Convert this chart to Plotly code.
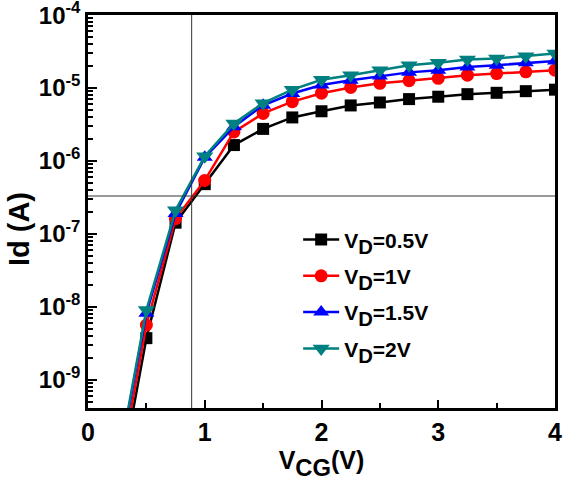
import plotly.graph_objects as go

vcg = [0.25, 0.5, 0.75, 1.0, 1.25, 1.5, 1.75, 2.0, 2.25, 2.5, 2.75, 3.0, 3.25, 3.5, 3.75, 4.0]

id_vd05 = [2.5e-11, 3.7e-9, 1.42e-7, 4.8e-7, 1.65e-6, 2.75e-6, 3.95e-6, 4.8e-6, 5.77e-6,
           6.34e-6, 7.05e-6, 7.6e-6, 8.24e-6, 8.6e-6, 9.06e-6, 9.5e-6]
id_vd1 = [3.5e-11, 5.6e-9, 1.62e-7, 5.4e-7, 2.5e-6, 4.48e-6, 6.5e-6, 8.5e-6, 1.02e-5,
          1.16e-5, 1.26e-5, 1.36e-5, 1.5e-5, 1.58e-5, 1.67e-5, 1.76e-5]
id_vd15 = [5.5e-11, 8.1e-9, 1.9e-7, 1.12e-6, 2.94e-6, 5.8e-6, 8.4e-6, 1.1e-5, 1.28e-5,
           1.46e-5, 1.64e-5, 1.76e-5, 1.95e-5, 2.06e-5, 2.22e-5, 2.34e-5]
id_vd2 = [6.0e-11, 9.0e-9, 2.1e-7, 1.16e-6, 3.27e-6, 6.2e-6, 9.5e-6, 1.3e-5, 1.5e-5,
          1.76e-5, 2.06e-5, 2.22e-5, 2.47e-5, 2.55e-5, 2.74e-5, 2.98e-5]

sub_d = "<span style='font-size:29px'><sub>D</sub></span>"
series_names = ["V" + sub_d + "=0.5V", "V" + sub_d + "=1V",
                "V" + sub_d + "=1.5V", "V" + sub_d + "=2V"]
series_values = [id_vd05, id_vd1, id_vd15, id_vd2]
colors = ["#000000", "#FF0000", "#0000FF", "#008080"]
symbols = ["square", "circle", "triangle-up", "triangle-down"]
sizes = [12, 13, 14, 15]

x_ticks = [0, 1, 2, 3, 4]
y_tickvals = [1e-9, 1e-8, 1e-7, 1e-6, 1e-5, 1e-4]
y_ticktext = ["10<sup>-9</sup>", "10<sup>-8</sup>", "10<sup>-7</sup>",
              "10<sup>-6</sup>", "10<sup>-5</sup>", "10<sup>-4</sup>"]
y_minor = [m * d for d in [1e-10, 1e-9, 1e-8, 1e-7, 1e-6, 1e-5] for m in range(2, 10)]
y_title = "Id (A)"

vline_x = 0.888
hline_y = 3.3e-7
y_range = [-9.39, -3.998]

fig = go.Figure()
for i, (name, vals) in enumerate(zip(series_names, series_values)):
    fig.add_trace(go.Scatter(
        x=vcg, y=vals, name=name, mode="lines+markers",
        line=dict(color=colors[i], width=2.5),
        marker=dict(symbol=symbols[i], size=sizes[i], color=colors[i]),
        legendgroup=str(i),
    ))

fig.add_shape(type="line", xref="x", yref="paper", x0=vline_x, x1=vline_x, y0=0, y1=1,
              line=dict(color="#333333", width=1))
fig.add_shape(type="line", xref="paper", yref="y", x0=0, x1=1, y0=hline_y, y1=hline_y,
              line=dict(color="#333333", width=1))

font_family = "Liberation Sans, Arial, sans-serif"

fig.add_annotation(text=y_title, xref="paper", yref="paper", x=-0.148, y=0.455,
                   xanchor="center", yanchor="middle", textangle=-90, showarrow=False,
                   font=dict(size=29, family=font_family, weight="bold", color="black"))

fig.update_layout(
    width=567, height=482,
    margin=dict(l=88, r=12, t=15, b=74),
    paper_bgcolor="white", plot_bgcolor="white",
    font=dict(family=font_family, color="black"),
    showlegend=True,
    legend=dict(
        x=0.45, y=0.48, xanchor="left", yanchor="top",
        bgcolor="rgba(0,0,0,0)", borderwidth=0,
        font=dict(size=21, family=font_family, color="black", weight="bold"),
        tracegroupgap=6,
        itemwidth=36,
    ),
    xaxis=dict(
        range=[0, 4], tickvals=x_ticks, automargin=False,
        ticks="inside", ticklen=8, tickwidth=2, tickcolor="black",
        showline=True, linewidth=2.5, linecolor="black", mirror=True,
        showgrid=False, zeroline=False,
        minor=dict(ticks="inside", ticklen=5, tickwidth=2, tickcolor="black",
                   tickmode="linear", tick0=0, dtick=0.5),
        tickfont=dict(size=25, family=font_family, weight="bold"),
        title=dict(text="V<span style='font-size:34px'><sub>CG</sub></span>(V)",
                   font=dict(size=25, family=font_family, weight="bold"), standoff=2),
    ),
    yaxis=dict(
        type="log", range=y_range, automargin=False,
        tickmode="array", tickvals=y_tickvals, ticktext=y_ticktext,
        ticks="inside", ticklen=9, tickwidth=2, tickcolor="black",
        ticklabeloverflow="allow",
        showline=True, linewidth=2.5, linecolor="black", mirror=True,
        showgrid=False, zeroline=False,
        minor=dict(ticks="inside", ticklen=5, tickwidth=2, tickcolor="black",
                   tickmode="array", tickvals=y_minor),
        tickfont=dict(size=24, family=font_family, weight="bold"),
    ),
)

fig.write_html("out.html")
